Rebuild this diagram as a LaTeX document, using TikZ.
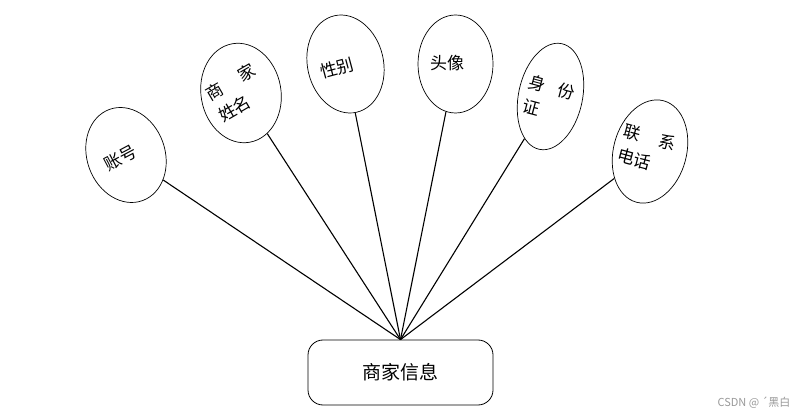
\documentclass[tikz,border=0pt]{standalone}
\usepackage{fontspec}
\newfontfamily\cjk{Noto Sans CJK SC}
\usepackage{xcolor}
\usetikzlibrary{shapes.geometric}
\tikzset{
  attr/.style={draw, ellipse, inner sep=0pt, line width=0.7pt},
  attrtxt/.style={font=\cjk\fontsize{17}{25}\selectfont, align=left, inner sep=0pt},
  entity/.style={draw, rounded corners=15pt, minimum width=185pt, minimum height=65pt,
    line width=0.8pt, font=\cjk\fontsize{19}{22}\selectfont},
}

\begin{document}
\begin{tikzpicture}[x=1pt, y=-1pt, line width=1.1pt]
    \useasboundingbox (0,0) rectangle (811,419);

    \node[entity] (SJ) at (400.5,372.5) {商家信息};

    \node[attr, minimum width=78pt, minimum height=97pt, rotate=20] (ZH) at (126,155) {};
    \node[attrtxt, rotate=28] (ZHt) at (121,158) {账号};
    \node[attr, minimum width=80pt, minimum height=100pt, rotate=10] (XM) at (241,93) {};
    \node[attrtxt, rotate=30] (XMt) at (237,93) {商\hspace{20pt}家\\姓名};
    \node[attr, minimum width=76pt, minimum height=99pt, rotate=13] (XB) at (345.5,64) {};
    \node[attrtxt, rotate=15] (XBt) at (337,68) {性别};
    \node[attr, minimum width=75pt, minimum height=98pt] (TX) at (455.5,64) {};
    \node[attrtxt] (TXt) at (447,63) {头像};
    \node[attr, minimum width=64pt, minimum height=108pt, rotate=-12] (SFZ) at (550.5,96.5) {};
    \node[attrtxt, rotate=-15] (SFZt) at (549,99) {身\hspace{13pt}份\\证};
    \node[attr, minimum width=73pt, minimum height=105pt, rotate=-15] (LXDH) at (650,151.5) {};
    \node[attrtxt, rotate=-15] (LXDHt) at (647,149.5) {联\hspace{19pt}系\\电话};

    \draw (ZH) -- (SJ.north);
    \draw (XM) -- (SJ.north);
    \draw (XB) -- (SJ.north);
    \draw (TX) -- (SJ.north);
    \draw (SFZ) -- (SJ.north);
    \draw (LXDH) -- (SJ.north);

    \node[font=\cjk\fontsize{11}{13}\selectfont, text=gray!80] (wm) at (754,403) {CSDN @ ´黑白};
  \end{tikzpicture}
\end{document}
